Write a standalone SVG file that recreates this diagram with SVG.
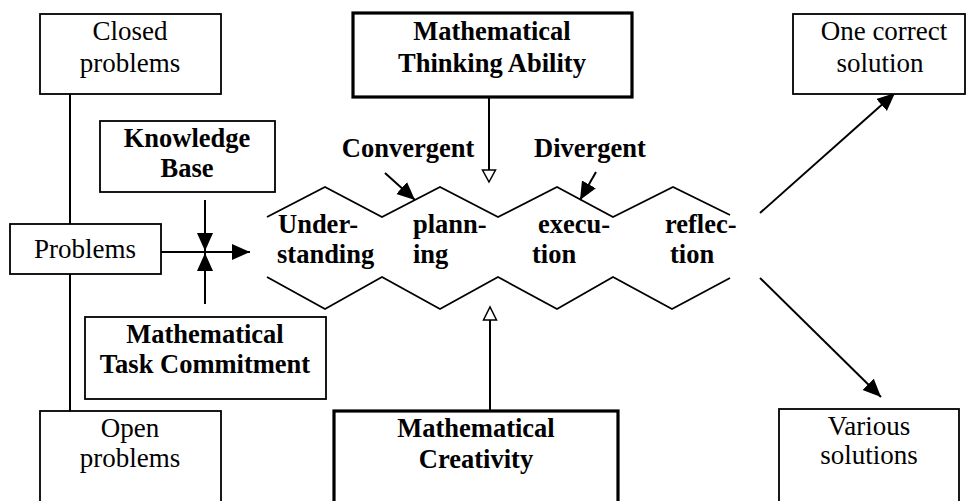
<svg xmlns="http://www.w3.org/2000/svg" width="967" height="501" viewBox="0 0 967 501">
<style>
.box{fill:#fff;stroke:#000;stroke-width:1.8}
.thick{fill:#fff;stroke:#000;stroke-width:3.2}
.t{font-family:"Liberation Serif","Times New Roman",serif;font-size:27px;fill:#000;text-anchor:middle}
.b{font-family:"Liberation Serif","Times New Roman",serif;font-size:26.5px;font-weight:bold;fill:#000;text-anchor:middle}
.s{text-anchor:start}
.ln{fill:none;stroke:#000;stroke-width:2}
.zz{fill:none;stroke:#000;stroke-width:1.8;stroke-linejoin:miter}
</style>
<defs>
<marker id="ah" markerUnits="userSpaceOnUse" markerWidth="19" markerHeight="17" refX="18" refY="8" orient="auto">
<path d="M0,0 L18,8 L0,16 z" fill="#000"/>
</marker>
</defs>
<rect width="967" height="501" fill="#fff"/>

<g id="connectors">
<line class="ln" x1="70" y1="94" x2="70" y2="224"/>
<line class="ln" x1="70" y1="274" x2="70" y2="411"/>
<line class="ln" x1="161" y1="252" x2="250" y2="252" marker-end="url(#ah)"/>
<line class="ln" x1="205" y1="200" x2="205" y2="251" marker-end="url(#ah)"/>
<line class="ln" x1="205" y1="304" x2="205" y2="253" marker-end="url(#ah)"/>
<line class="ln" x1="489" y1="97" x2="489" y2="170"/>
<path d="M482.5,170 L495.5,170 L489,182 z" fill="#fff" stroke="#000" stroke-width="1.5"/>
<line class="ln" x1="490" y1="410" x2="490" y2="320"/>
<path d="M483.5,320 L496.5,320 L490,307 z" fill="#fff" stroke="#000" stroke-width="1.5"/>
<line class="ln" x1="385" y1="173" x2="415" y2="200" marker-end="url(#ah)"/>
<line class="ln" x1="596" y1="172" x2="580" y2="200" marker-end="url(#ah)"/>
<line class="ln" x1="760" y1="213" x2="895" y2="93" marker-end="url(#ah)"/>
<line class="ln" x1="760" y1="278" x2="881" y2="397" marker-end="url(#ah)"/>
</g>

<g id="process">
<polyline class="zz" points="267,217 325,187 382,217 440,187 498,217 557,187 613,217 673,187 730,215"/>
<polyline class="zz" points="267,277 325,309 382,277 440,309 498,277 557,309 613,277 672,309 730,278"/>
<text class="b s" x="278" y="233">Under-</text>
<text class="b s" x="277" y="263">standing</text>
<text class="b s" x="413" y="233">plann-</text>
<text class="b s" x="413" y="263">ing</text>
<text class="b s" x="538" y="233">execu-</text>
<text class="b s" x="532" y="263">tion</text>
<text class="b s" x="665" y="233">reflec-</text>
<text class="b s" x="670" y="263">tion</text>
</g>

<g id="convergent"><text class="b" x="408" y="157">Convergent</text></g>
<g id="divergent"><text class="b" x="590" y="157">Divergent</text></g>

<g id="closed-problems">
<rect class="box" x="40" y="14" width="181" height="80"/>
<text class="t" x="130" y="40">Closed</text>
<text class="t" x="130" y="72">problems</text>
</g>

<g id="knowledge-base">
<rect class="box" x="100" y="121" width="175" height="71"/>
<text class="b" x="187" y="147">Knowledge</text>
<text class="b" x="187" y="177">Base</text>
</g>

<g id="problems">
<rect class="box" x="10" y="224" width="151" height="50"/>
<text class="t" x="85" y="258">Problems</text>
</g>

<g id="task-commitment">
<rect class="box" x="85" y="317" width="241" height="82"/>
<text class="b" x="205" y="343">Mathematical</text>
<text class="b" x="205" y="373">Task Commitment</text>
</g>

<g id="open-problems">
<rect class="box" x="40" y="411" width="181" height="100"/>
<text class="t" x="130" y="437">Open</text>
<text class="t" x="130" y="467">problems</text>
</g>

<g id="thinking-ability">
<rect class="thick" x="353" y="13" width="279" height="84"/>
<text class="b" x="492" y="40">Mathematical</text>
<text class="b" x="492" y="72">Thinking Ability</text>
</g>

<g id="creativity">
<rect class="thick" x="334" y="411" width="284" height="100"/>
<text class="b" x="476" y="437">Mathematical</text>
<text class="b" x="476" y="468">Creativity</text>
</g>

<g id="one-correct">
<rect class="box" x="793" y="14" width="172" height="80"/>
<text class="t" x="884" y="40">One correct</text>
<text class="t" x="880" y="72">solution</text>
</g>

<g id="various">
<rect class="box" x="779" y="409" width="180" height="100"/>
<text class="t" x="869" y="435">Various</text>
<text class="t" x="869" y="464">solutions</text>
</g>
</svg>
